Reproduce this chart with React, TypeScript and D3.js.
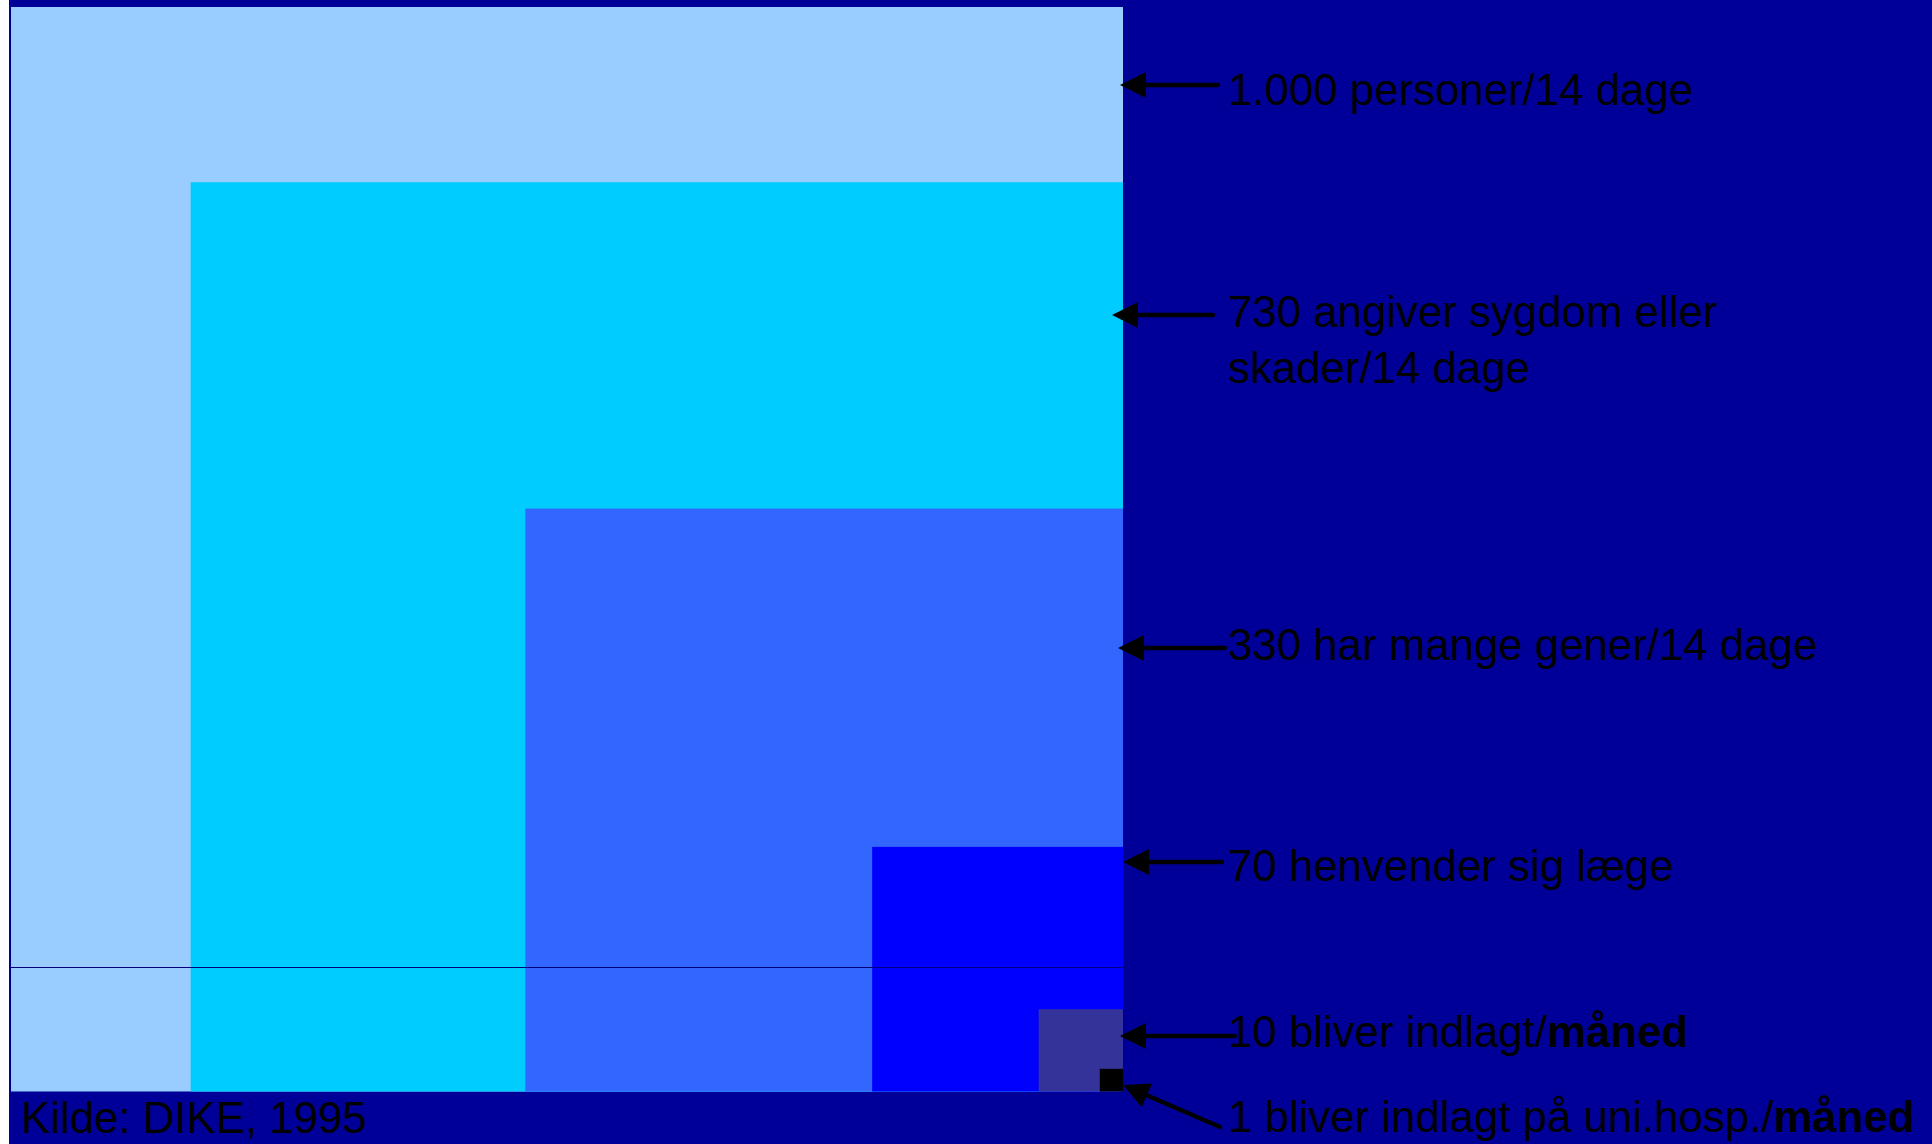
import * as d3 from "d3";

// counts shown by the nested boxes (persons out of 1000)
const VALUES = [1000, 730, 330, 70, 10, 1];

const LABEL_LINES = [
  ["1.000 personer/14 dage"],
  ["730 angiver sygdom eller", "skader/14 dage"],
  ["330 har mange gener/14 dage"],
  ["70 henvender sig læge"],
  ["10 bliver indlagt/"],
  ["1 bliver indlagt på uni.hosp./"],
];
const LABEL_BOLD = ["", "", "", "", "måned", "måned"];

const SOURCE = "Kilde: DIKE, 1995";

const BOX_COLORS = ["#99CCFF", "#00CCFF", "#3366FF", "#0000FF", "#333399", "#000000"];

const W = 1923;
const H = 1144;

const FRAME = {
  bg: "#000099",
  left: 2,
  top: 7,
  right: 1114, // shared right edge of all boxes
  bottom: 1091.5, // shared bottom edge
  lineY: 967.5,
  lineColor: "#00007a",
};

const TEXT = {
  fontFamily: "'Liberation Sans', Arial, sans-serif",
  fontSize: 43.8,
  lineHeight: 56,
  x: 1219,
  color: "#000",
};

// arrow anchors: tail -> tip, and label baseline (svg coords)
const ANNOT = [
  { tail: [1209, 85], tip: [1111, 85], baseline: 105 },
  { tail: [1204, 315], tip: [1103, 315], baseline: 327 },
  { tail: [1216, 648], tip: [1109, 648], baseline: 660 },
  { tail: [1213, 862], tip: [1114, 862], baseline: 881 },
  { tail: [1226, 1036], tip: [1111, 1036], baseline: 1047 },
  { tail: [1211, 1127], tip: [1114, 1085], baseline: 1132 },
];

const ARROW = { width: 4.3, headLen: 26, headHalf: 13 };

function Arrow({ tail, tip }: { tail: number[]; tip: number[] }) {
  const dx = tip[0] - tail[0];
  const dy = tip[1] - tail[1];
  const len = Math.hypot(dx, dy);
  const ux = dx / len;
  const uy = dy / len;
  const bx = tip[0] - ux * ARROW.headLen;
  const by = tip[1] - uy * ARROW.headLen;
  const px = -uy * ARROW.headHalf;
  const py = ux * ARROW.headHalf;
  const head = [
    [tip[0], tip[1]],
    [bx + px, by + py],
    [bx - px, by - py],
  ];
  return (
    <g>
      <line
        x1={tail[0]}
        y1={tail[1]}
        x2={bx + ux * 2}
        y2={by + uy * 2}
        stroke="#000"
        strokeWidth={ARROW.width}
        strokeLinecap="round"
      />
      <polygon points={head.map((p) => p.join(",")).join(" ")} fill="#000" />
    </g>
  );
}

export default function App() {
  const maxW = FRAME.right - FRAME.left;
  const maxH = FRAME.bottom - FRAME.top;

  // side length grows with a power of the count
  const wScale = d3.scalePow().exponent(0.56).domain([0, d3.max(VALUES)!]).range([0, maxW]);
  const hScale = d3.scalePow().exponent(0.56).domain([0, d3.max(VALUES)!]).range([0, maxH]);

  return (
    <svg
      width={W}
      height={H}
      style={{ position: "absolute", left: 9, top: 0, display: "block" }}
      xmlns="http://www.w3.org/2000/svg"
    >
      <rect x={0} y={0} width={W} height={H} fill={FRAME.bg} />

      <g className="boxes">
        {VALUES.map((v, i) => {
          const w = wScale(v);
          const h = hScale(v);
          return (
            <rect
              key={i}
              x={FRAME.right - w}
              y={FRAME.bottom - h}
              width={w}
              height={h}
              fill={BOX_COLORS[i]}
            />
          );
        })}
      </g>

      <line
        x1={FRAME.left}
        x2={FRAME.right}
        y1={FRAME.lineY}
        y2={FRAME.lineY}
        stroke={FRAME.lineColor}
        strokeWidth={1}
      />

      <g className="labels">
        {LABEL_LINES.map((lines, i) => {
          const a = ANNOT[i];
          return (
            <g key={i}>
              <Arrow tail={a.tail} tip={a.tip} />
              <text
                x={TEXT.x}
                y={a.baseline}
                fontFamily={TEXT.fontFamily}
                fontSize={TEXT.fontSize}
                fill={TEXT.color}
              >
                {lines.map((ln, j) => (
                  <tspan key={j} x={TEXT.x} dy={j === 0 ? 0 : TEXT.lineHeight}>
                    {ln}
                    {j === lines.length - 1 && LABEL_BOLD[i] && (
                      <tspan fontWeight="bold">{LABEL_BOLD[i]}</tspan>
                    )}
                  </tspan>
                ))}
              </text>
            </g>
          );
        })}
      </g>

      <text
        x={12}
        y={1133}
        fontFamily={TEXT.fontFamily}
        fontSize={TEXT.fontSize}
        fill={TEXT.color}
      >
        {SOURCE}
      </text>
    </svg>
  );
}
